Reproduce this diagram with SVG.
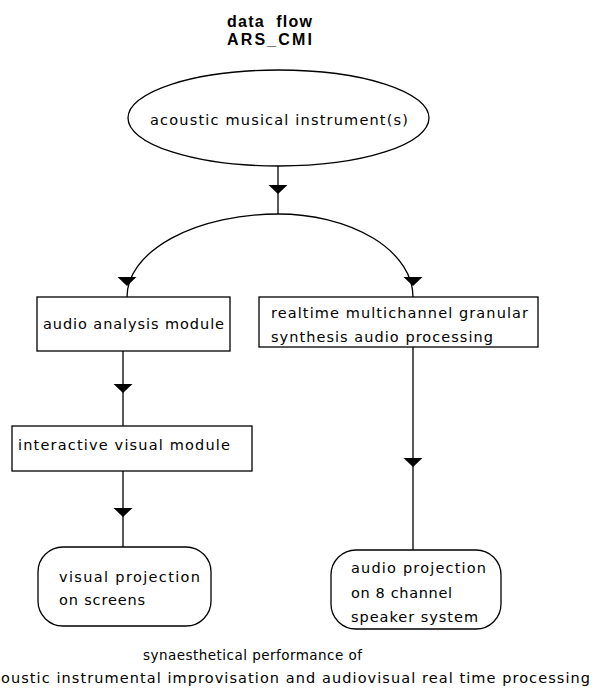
<svg xmlns="http://www.w3.org/2000/svg" xmlns:xlink="http://www.w3.org/1999/xlink" width="601" height="688" viewBox="0 0 601 688">
<style>
.t{font-family:"DejaVu Sans","Verdana",sans-serif;font-size:14.5px;fill:#000}
.h{font-family:"Liberation Sans",Arial,sans-serif;font-size:16px;font-weight:bold;fill:#000}
.s{fill:#fff;stroke:#000;stroke-width:1.3}
.c{fill:none;stroke:#000;stroke-width:1.3}
</style>
<defs>
<path id="ah" d="M-9.5,0 L9.5,0 L0,9 Z" fill="#000"/>
</defs>
<rect width="601" height="688" fill="#fff"/>
<g id="title">
<text class="h" x="227" y="27" textLength="85" lengthAdjust="spacing" xml:space="preserve">data  flow</text>
<text class="h" x="227" y="45" textLength="85" lengthAdjust="spacing">ARS_CMI</text>
</g>
<g id="connectors">
<line class="c" x1="278" y1="166" x2="278" y2="214"/>
<use xlink:href="#ah" x="278" y="185"/>
<path class="c" d="M278,214 A151,83 0 0 0 127,297"/>
<path class="c" d="M278,214 A135,83 0 0 1 413,297"/>
<use xlink:href="#ah" x="127" y="277"/>
<use xlink:href="#ah" x="413" y="277"/>
<line class="c" x1="123" y1="351" x2="123" y2="426"/>
<use xlink:href="#ah" x="123" y="384"/>
<line class="c" x1="413" y1="347" x2="413" y2="550"/>
<use xlink:href="#ah" x="413" y="458"/>
<line class="c" x1="123" y1="471" x2="123" y2="547"/>
<use xlink:href="#ah" x="123" y="508"/>
</g>
<g id="instrument">
<ellipse class="s" cx="278.5" cy="118" rx="150.5" ry="48"/>
<text class="t" x="150" y="125" textLength="258" lengthAdjust="spacing">acoustic musical instrument(s)</text>
</g>
<g id="analysis">
<rect class="s" x="37" y="297" width="193" height="54"/>
<text class="t" x="43" y="329" textLength="181" lengthAdjust="spacing">audio analysis module</text>
</g>
<g id="granular">
<rect class="s" x="259" y="297" width="279" height="50"/>
<text class="t" x="271" y="318" textLength="257" lengthAdjust="spacing">realtime multichannel granular</text>
<text class="t" x="271" y="342" textLength="222" lengthAdjust="spacing">synthesis audio processing</text>
</g>
<g id="visual">
<rect class="s" x="12" y="426" width="240" height="45"/>
<text class="t" x="18" y="450" textLength="212" lengthAdjust="spacing">interactive visual module</text>
</g>
<g id="visualprojection">
<rect class="s" x="38" y="547" width="173" height="79" rx="25" ry="25"/>
<text class="t" x="59" y="582" textLength="141" lengthAdjust="spacing">visual projection</text>
<text class="t" x="59" y="605" textLength="86" lengthAdjust="spacing">on screens</text>
</g>
<g id="audioprojection">
<rect class="s" x="331" y="550" width="170" height="79" rx="25" ry="25"/>
<text class="t" x="351" y="573" textLength="135" lengthAdjust="spacing">audio projection</text>
<text class="t" x="351" y="598" textLength="101" lengthAdjust="spacing">on 8 channel</text>
<text class="t" x="351" y="622" textLength="127" lengthAdjust="spacing">speaker system</text>
</g>
<g id="caption">
<text class="t" x="143" y="660" textLength="219" lengthAdjust="spacing" style="font-size:13.5px">synaesthetical performance of</text>
<text class="t" x="1" y="683" textLength="589" lengthAdjust="spacing">oustic instrumental improvisation and audiovisual real time processing</text>
</g>
</svg>
